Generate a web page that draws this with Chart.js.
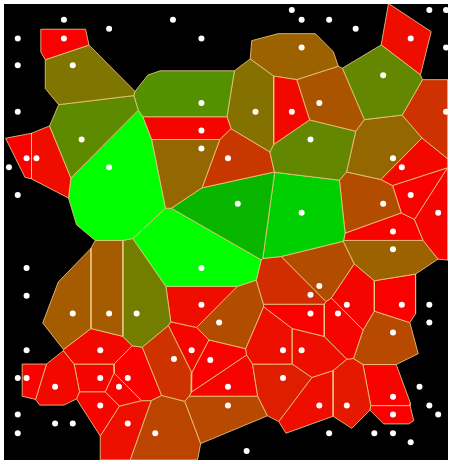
<!DOCTYPE html>
<html>
<head>
<meta charset="utf-8">
<script src="https://cdn.jsdelivr.net/npm/chart.js@4.4.1/dist/chart.umd.min.js"></script>
<style>
  body { margin: 0; background: #fff; }
</style>
</head>
<body>
<canvas id="voronoi" width="452" height="464"></canvas>
<script>
// seeds of the coloured cells (pixel units of the picture)
const cellX = [61, 70, 79, 23, 33, 107, 201, 201, 201, 256, 293, 303, 321, 386, 414, 450, 312, 228, 396, 405,
               238, 303, 386, 414, 442, 396, 396, 201, 321, 312, 349, 312, 340, 405, 396, 303, 284, 284, 321, 349,
               396, 396, 70, 107, 135, 201, 219, 173, 191, 210, 228, 228, 154, 98, 23, 52, 98, 126, 117, 98, 126];
const cellY = [38, 65, 140, 159, 159, 168, 103, 131, 149, 112, 112, 47, 103, 75, 38, 112, 140, 159, 159, 168,
               205, 214, 205, 196, 214, 233, 251, 270, 288, 297, 307, 316, 316, 307, 335, 353, 353, 381, 409, 409,
               400, 418, 316, 316, 316, 307, 325, 362, 353, 363, 390, 409, 437, 353, 381, 390, 381, 381, 390, 409, 427];
// 0 = red ... 1 = green
const cellScore = [0, 0.55, 0.68, 0, 0.05, 1, 0.72, 0.02, 0.45, 0.52, 0.03, 0.42, 0.35, 0.66, 0.05, 0.2, 0.66, 0.22, 0.45, 0.03,
                   0.84, 0.9, 0.32, 0, 0.02, 0.01, 0.42, 1, 0.32, 0.18, 0.02, 0, 0.02, 0, 0.3, 0.05, 0.06, 0.12, 0.05, 0.1,
                   0.01, 0, 0.38, 0.38, 0.6, 0.05, 0.32, 0.2, 0.02, 0, 0.02, 0.3, 0.28, 0.03, 0, 0.03, 0.02, 0.01, 0.02, 0.01, 0.06];

// seeds lying in the black area
const outerX = [61, 107, 172, 201, 293, 303, 331, 358, 433, 450, 14, 450, 14, 14, 5, 14, 23, 23, 23, 14,
                14, 52, 70, 14, 247, 433, 433, 423, 433, 442, 331, 377, 396, 414];
const outerY = [19, 28, 19, 38, 9, 19, 19, 28, 9, 9, 38, 47, 65, 112, 168, 196, 270, 298, 353, 381,
                418, 427, 427, 437, 455, 307, 325, 390, 409, 418, 437, 437, 437, 446];

const colourStops = [
  [0, [250, 0, 0]],
  [0.2, [205, 50, 0]],
  [0.4, [160, 95, 0]],
  [0.6, [115, 125, 0]],
  [0.75, [75, 150, 0]],
  [0.85, [0, 185, 0]],
  [1, [0, 255, 0]]
];

function scoreColour(s) {
  for (let i = 1; i < colourStops.length; i++) {
    const [s0, c0] = colourStops[i - 1];
    const [s1, c1] = colourStops[i];
    if (s <= s1) {
      const t = (s - s0) / (s1 - s0);
      const c = c0.map((v, k) => Math.round(v + (c1[k] - v) * t));
      return `rgb(${c[0]},${c[1]},${c[2]})`;
    }
  }
  return "rgb(0,255,0)";
}

// keep the part of poly that is nearer to a than to b
function clipHalfPlane(poly, ax, ay, bx, by) {
  const nx = bx - ax, ny = by - ay;
  const mx = (ax + bx) / 2, my = (ay + by) / 2;
  const side = p => (p.x - mx) * nx + (p.y - my) * ny;
  const out = [];
  for (let i = 0; i < poly.length; i++) {
    const p = poly[i], q = poly[(i + 1) % poly.length];
    const sp = side(p), sq = side(q);
    if (sp <= 0) out.push(p);
    if ((sp < 0 && sq > 0) || (sp > 0 && sq < 0)) {
      const t = sp / (sp - sq);
      out.push({ x: p.x + (q.x - p.x) * t, y: p.y + (q.y - p.y) * t });
    }
  }
  return out;
}

const allX = cellX.concat(outerX);
const allY = cellY.concat(outerY);

function voronoiCell(i) {
  let poly = [{ x: 0, y: 3 }, { x: 452, y: 3 }, { x: 452, y: 464 }, { x: 0, y: 464 }];
  for (let j = 0; j < allX.length; j++) {
    if (j === i) continue;
    poly = clipHalfPlane(poly, allX[i], allY[i], allX[j], allY[j]);
    if (!poly.length) break;
  }
  return poly;
}

const datasets = [];

// white seed dots on top
datasets.push({
  data: allX.map((x, i) => ({ x: x, y: allY[i] })),
  pointRadius: 3,
  pointBackgroundColor: "#fff",
  pointBorderWidth: 0,
  showLine: false,
  order: 0
});

cellX.forEach((x, i) => {
  const poly = voronoiCell(i);
  if (!poly.length) return;
  datasets.push({
    data: poly.concat([poly[0]]),
    showLine: true,
    fill: "shape",
    backgroundColor: scoreColour(cellScore[i]),
    borderColor: "rgba(235,200,130,0.85)",
    borderWidth: 1,
    pointRadius: 0,
    tension: 0,
    order: 1
  });
});

const blackBackground = {
  id: "blackBackground",
  beforeDraw(chart) {
    const { ctx, chartArea } = chart;
    ctx.save();
    ctx.fillStyle = "#000";
    ctx.fillRect(chartArea.left, chartArea.top, chartArea.right - chartArea.left, chartArea.bottom - chartArea.top);
    ctx.restore();
  }
};

new Chart(document.getElementById("voronoi").getContext("2d"), {
  type: "scatter",
  data: { datasets },
  options: {
    responsive: false,
    animation: false,
    layout: { padding: { top: 3, left: 0, right: 0, bottom: 0 } },
    plugins: { legend: { display: false }, tooltip: { enabled: false } },
    scales: {
      x: { type: "linear", display: false, min: 0, max: 452 },
      y: { type: "linear", display: false, min: 3, max: 464, reverse: true }
    }
  },
  plugins: [blackBackground]
});
</script>
</body>
</html>
